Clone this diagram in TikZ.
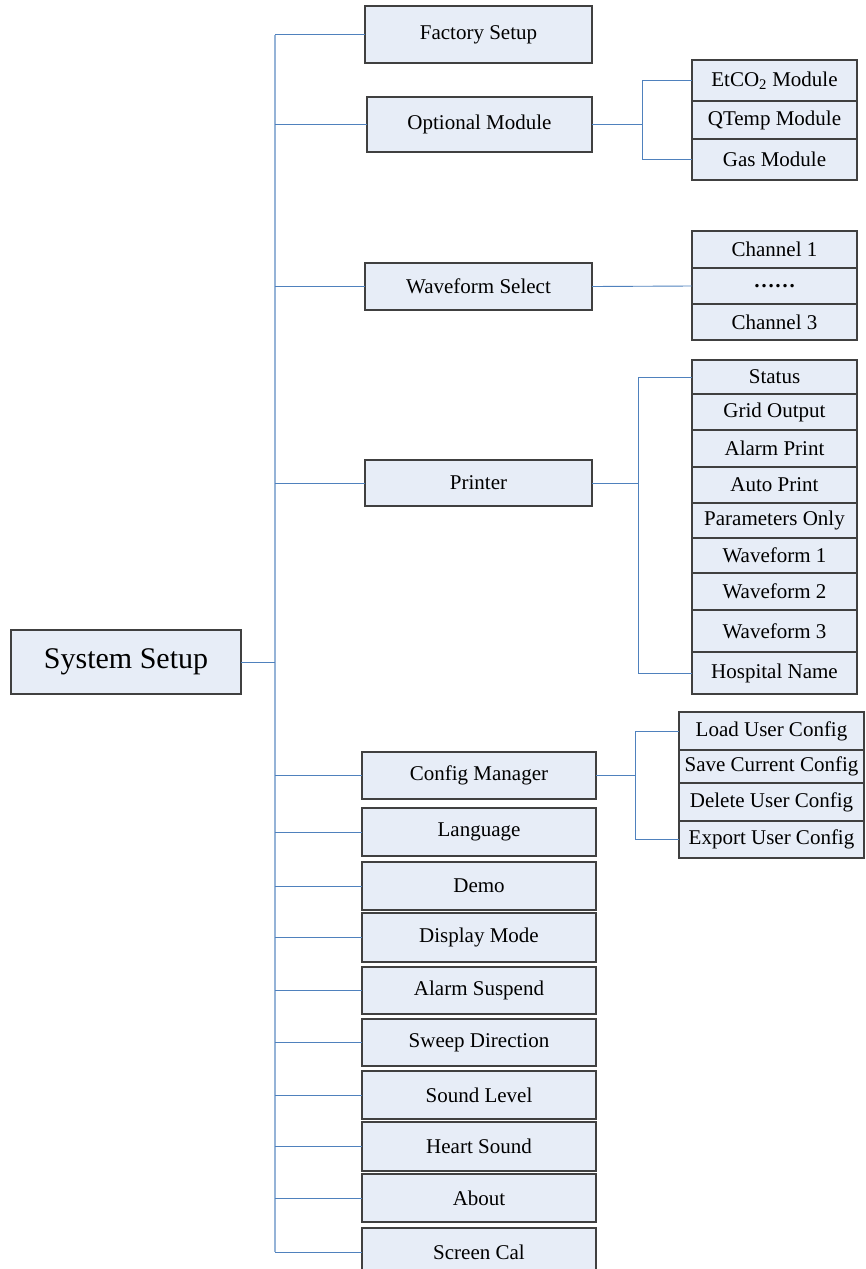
\documentclass[tikz,border=0pt]{standalone}
\usepackage{fontspec}
\setmainfont{Liberation Serif}
\definecolor{boxfill}{HTML}{E7EDF7}
\definecolor{boxline}{HTML}{404040}
\definecolor{trunkc}{HTML}{95B3D7}
\definecolor{connc}{HTML}{4F81BD}
\tikzset{
  box/.style={draw=boxline, fill=boxfill, line width=1.1pt, rectangle, inner sep=0pt, outer sep=0pt,
    font=\fontsize{21}{24}\selectfont, minimum width=#1},
  box/.default=234,
  sub/.style={box=165},
  conn/.style={draw=connc, line width=0.9pt},
  trunk/.style={draw=trunkc, line width=2pt},
}
\begin{document}
\begin{tikzpicture}[x=1pt, y=-1pt]
\useasboundingbox (0,0) rectangle (866,1269);

% trunk
\coordinate (tTop) at (275,35);
\coordinate (tBot) at (275,1252);
\draw[trunk] (tTop) -- (tBot);

% root
\node[box=230, minimum height=64, font=\fontsize{30}{34}\selectfont] (ss) at (126,662) {System Setup};

% main menu
\node[box=227, minimum height=57] (fs) at (478.5,34.5) {Factory Setup};
\node[box=225, minimum height=55] (om) at (479.5,124.5) {Optional Module};
\node[box=227, minimum height=47] (ws) at (478.5,286.5) {Waveform Select};
\node[box=227, minimum height=46] (pr) at (478.5,483) {Printer};
\node[box, minimum height=47] (cm) at (479,775.5) {Config Manager};
\node[box, minimum height=48] (lang) at (479,832) {Language};
\node[box, minimum height=48] (demo) at (479,886) {Demo};
\node[box, minimum height=49] (dm) at (479,937.5) {Display Mode};
\node[box, minimum height=47] (as) at (479,990.5) {Alarm Suspend};
\node[box, minimum height=47] (sd) at (479,1042.5) {Sweep Direction};
\node[box, minimum height=48] (sl) at (479,1095) {Sound Level};
\node[box, minimum height=49] (hs) at (479,1146.5) {Heart Sound};
\node[box, minimum height=48] (ab) at (479,1198) {About};
\node[box, minimum height=48] (scal) at (479,1252) {Screen Cal};

% optional module sub
\node[sub, minimum height=41] (etco) at (774.5,80.5) {EtCO\textsubscript{2} Module};
\node[sub, minimum height=38] (qt) at (774.5,120) {QTemp Module};
\node[sub, minimum height=41] (gas) at (774.5,159.5) {Gas Module};

% channels
\node[sub, minimum height=37] (ch1) at (774.5,249.5) {Channel 1};
\node[sub, minimum height=36] (chd) at (774.5,286) {\textbf{……}};
\node[sub, minimum height=36] (ch3) at (774.5,322) {Channel 3};

% printer sub
\node[sub, minimum height=34] (st) at (774.5,377) {Status};
\node[sub, minimum height=36] (go) at (774.5,412) {Grid Output};
\node[sub, minimum height=37] (ap) at (774.5,448.5) {Alarm Print};
\node[sub, minimum height=36] (aup) at (774.5,485) {Auto Print};
\node[sub, minimum height=35] (po) at (774.5,520.5) {Parameters Only};
\node[sub, minimum height=35] (w1) at (774.5,555.5) {Waveform 1};
\node[sub, minimum height=37] (w2) at (774.5,591.5) {Waveform 2};
\node[sub, minimum height=42] (w3) at (774.5,631) {Waveform 3};
\node[sub, minimum height=42] (hn) at (774.5,673) {Hospital Name};

% config sub
\node[box=185, minimum height=38] (lu) at (771.5,731) {Load User Config};
\node[box=185, minimum height=33] (scc) at (771.5,766.5) {Save Current Config};
\node[box=185, minimum height=38] (du) at (771.5,802) {Delete User Config};
\node[box=185, minimum height=37] (eu) at (771.5,839.5) {Export User Config};

% connectors to trunk
\draw[conn] (ss.east) -- (ss.east -| tTop);
\foreach \n in {fs,om,ws,pr,cm,lang,demo,dm,as,sd,sl,hs,ab,scal}
  \draw[conn] (\n.west) -- (\n.west -| tTop);

% optional module bracket
\coordinate (ob) at (642,124.5);
\draw[conn] (om.east) -- (ob);
\draw[conn] (etco.west) -| (ob);
\draw[conn] (gas.west) -| (ob);

% waveform select
\draw[conn] (ws.east) -- (chd.west);

% printer bracket
\coordinate (pb) at (638,483);
\draw[conn] (pr.east) -- (pb);
\draw[conn] (st.west) -| (pb);
\draw[conn] (hn.west) -| (pb);

% config bracket
\coordinate (cb) at (635,775.5);
\draw[conn] (cm.east) -- (cb);
\draw[conn] (lu.west) -| (cb);
\draw[conn] (eu.west) -| (cb);
\end{tikzpicture}
\end{document}
